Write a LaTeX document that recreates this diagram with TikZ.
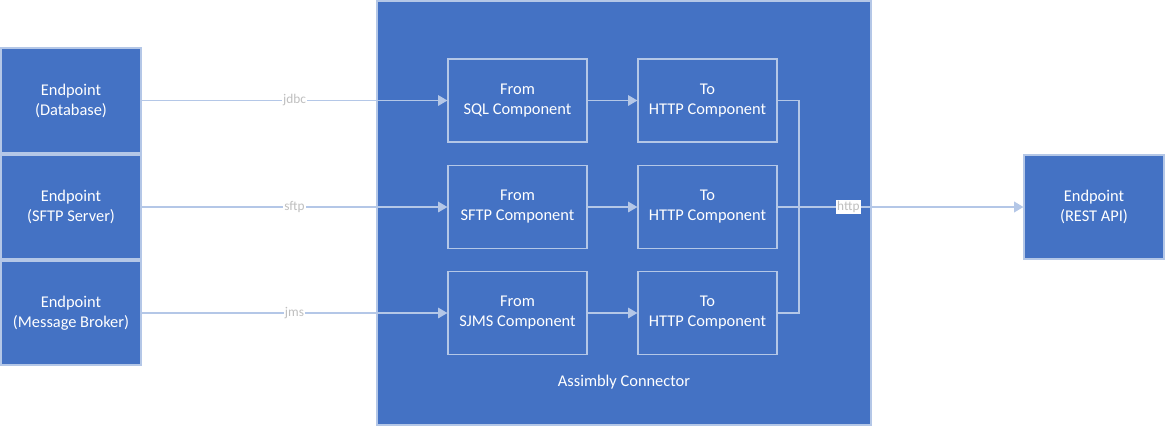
\documentclass[tikz,border=0pt]{standalone}
\usepackage{fontspec}
\setmainfont{Carlito}
\usetikzlibrary{arrows.meta}
\definecolor{boxblue}{HTML}{4472C4}
\definecolor{linec}{HTML}{B4C7E7}
\definecolor{lblgray}{HTML}{BFBFBF}
\tikzset{
  ep/.style={draw=linec, line width=0.9pt, fill=boxblue, text=white, align=center, font=\fontsize{12.3}{15}\selectfont, inner sep=0pt},
  comp/.style={draw=linec, line width=0.9pt, fill=boxblue, text=white, align=center, font=\fontsize{12.3}{15}\selectfont, minimum width=139*0.75pt, minimum height=83*0.75pt, inner sep=0pt},
  conn/.style={draw=linec, line width=0.9pt},
  arr/.style={conn, -{Triangle[length=7pt,width=8pt]}},
  lbl/.style={fill=white, text=lblgray, font=\fontsize{10}{11}\selectfont, inner sep=1pt},
}
\begin{document}
\begin{tikzpicture}[x=0.75pt,y=-0.75pt]
\useasboundingbox (0,0) rectangle (1165,426);
% big container
\node[draw=linec, line width=0.9pt, fill=boxblue, minimum width=494*0.75pt, minimum height=424*0.75pt, inner sep=0pt] (big) at (624,213) {};
\node[text=white, font=\fontsize{12.3}{15}\selectfont] (title) at (624,382) {Assimbly Connector};
% left endpoints
\node[ep, minimum width=140*0.75pt, minimum height=105*0.75pt] (db) at (71,100.5) {Endpoint\\(Database)};
\node[ep, minimum width=140*0.75pt, minimum height=104*0.75pt] (sftp) at (71,207) {Endpoint\\(SFTP Server)};
\node[ep, minimum width=140*0.75pt, minimum height=104*0.75pt] (mb) at (71,313) {Endpoint\\(Message Broker)};
% right endpoint
\node[ep, minimum width=140*0.75pt, minimum height=104*0.75pt] (rest) at (1094,207) {Endpoint\\(REST API)};
% components
\node[comp] (f1) at (517.5,100.5) {From\\SQL Component};
\node[comp] (f2) at (517.5,207) {From\\SFTP Component};
\node[comp] (f3) at (517.5,313) {From\\SJMS Component};
\node[comp] (t1) at (707.5,100.5) {To\\HTTP Component};
\node[comp] (t2) at (707.5,207) {To\\HTTP Component};
\node[comp] (t3) at (707.5,313) {To\\HTTP Component};
% junction
\coordinate (j1) at (799,100.5);
\coordinate (j2) at (799,207);
\coordinate (j3) at (799,313);
% connectors
\draw[arr] (db) -- node[lbl] {jdbc} (f1);
\draw[arr] (sftp) -- node[lbl] {sftp} (f2);
\draw[arr] (mb) -- node[lbl] {jms} (f3);
\draw[arr] (f1) -- (t1);
\draw[arr] (f2) -- (t2);
\draw[arr] (f3) -- (t3);
\draw[conn] (t1.east) -- (j1) -- (j2);
\draw[conn] (t3.east) -- (j3) -- (j2);
\draw[conn] (t2.east) -- (j2);
\draw[arr, line width=1.3pt] (j2) -- node[lbl, pos=0.22] {http} (rest);
\end{tikzpicture}
\end{document}
